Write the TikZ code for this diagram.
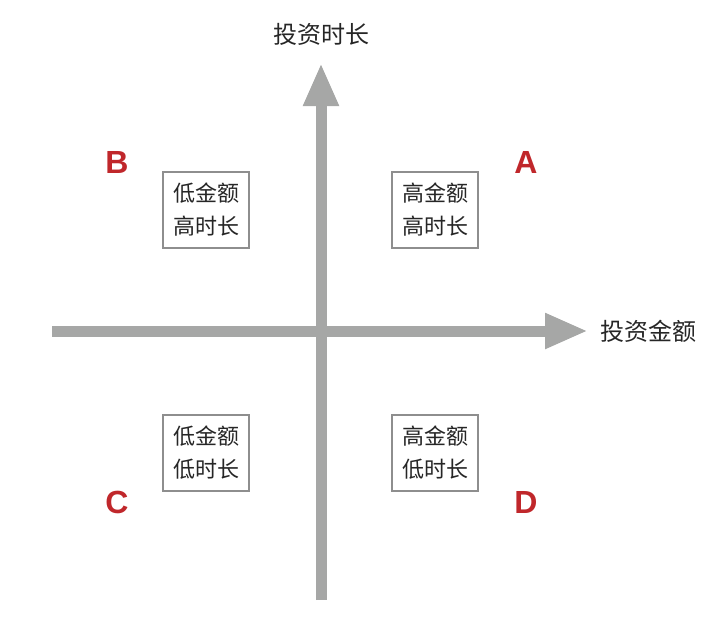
\documentclass[tikz,border=0pt]{standalone}
\usepackage{fontspec}
\newfontfamily\cjk{Noto Sans CJK SC}
\newfontfamily\latinbold{Liberation Sans}
\usetikzlibrary{arrows.meta}
\definecolor{axisgray}{HTML}{A6A7A6}
\definecolor{quadred}{HTML}{C0272B}
\definecolor{boxgray}{HTML}{8E8E8E}
\tikzset{
  axisline/.style={draw=axisgray, line width=11pt, -{Triangle[width=33pt,length=43pt]}},
  quadbox/.style={draw=boxgray, line width=1.3pt, fill=white, minimum width=86pt, minimum height=76pt, inner sep=0pt, align=center, font=\cjk\fontsize{22pt}{33pt}\selectfont, text=black!85},
  quadletter/.style={text=quadred, font=\latinbold\bfseries\fontsize{32pt}{32pt}\selectfont, inner sep=0pt},
  axislabel/.style={font=\cjk\fontsize{24pt}{24pt}\selectfont, text=black!85, inner sep=0pt}
}
\begin{document}
\begin{tikzpicture}[x=1pt,y=-1pt]
\useasboundingbox (0,0) rectangle (720,621);
\coordinate (hstart) at (52,331);
\coordinate (hend) at (588,331);
\coordinate (vstart) at (321,600);
\coordinate (vend) at (321,63);
\draw[axisline] (hstart) -- (hend);
\draw[axisline] (vstart) -- (vend);
\node[axislabel] (ylab) at (321,34) {投资时长};
\node[axislabel] (xlab) at (648,331) {投资金额};
\node[quadbox] (boxB) at (206,210) {低金额\\高时长};
\node[quadbox] (boxA) at (435,210) {高金额\\高时长};
\node[quadbox] (boxC) at (206,453) {低金额\\低时长};
\node[quadbox] (boxD) at (435,453) {高金额\\低时长};
\node[quadletter] (letB) at (117,162) {B};
\node[quadletter] (letA) at (526,162) {A};
\node[quadletter] (letC) at (117,502) {C};
\node[quadletter] (letD) at (526,502) {D};
\end{tikzpicture}
\end{document}
